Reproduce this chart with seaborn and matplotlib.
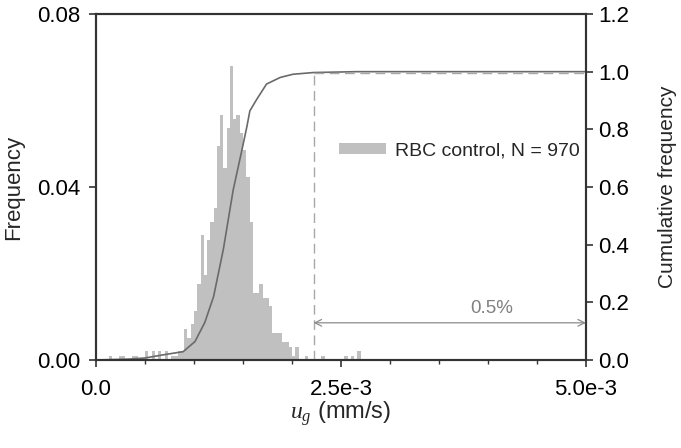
import numpy as np
import pandas as pd
import matplotlib
matplotlib.use("Agg")
import matplotlib.pyplot as plt
import seaborn as sns
from matplotlib.patches import Patch

# ---------------- data ----------------
N = 970
bin_width = 5e-3 / 150          # mm/s
# counts per consecutive bin starting at 0
counts = [0, 0, 0, 0, 1, 0, 0, 1, 1, 0,
          0, 1, 1, 0, 0, 2, 0, 2, 0, 2,
          0, 2, 0, 1, 1, 2, 2, 7, 5, 8,
          11, 17, 28, 19, 27, 31, 34, 48, 55, 43,
          52, 66, 54, 55, 51, 47, 41, 31, 15, 15,
          17, 14, 14, 12, 6, 6, 6, 4, 4, 3,
          1, 3, 0, 0, 1, 0, 0, 0, 0, 1,
          0, 0, 0, 0, 0, 0, 1, 0, 1, 0,
          2]
# cumulative frequency curve
cum_x = [0.0, 0.33e-3, 0.50e-3, 0.67e-3, 0.89e-3, 1.01e-3, 1.11e-3, 1.20e-3,
         1.30e-3, 1.40e-3, 1.49e-3, 1.54e-3, 1.57e-3, 1.64e-3, 1.74e-3,
         1.88e-3, 2.01e-3, 2.22e-3, 2.66e-3, 5.0e-3]
cum_y = [0.0, 0.003, 0.007, 0.017, 0.029, 0.064, 0.13, 0.22,
         0.385, 0.59, 0.73, 0.81, 0.864, 0.904, 0.957,
         0.98, 0.991, 0.997, 1.0, 1.0]
q995_x = 2.22e-3
q995_y = 0.995
legend_label = "RBC control, N = 970"
pct_label = "0.5%"

x_ticks = [0.0, 2.5e-3, 5.0e-3]
x_ticklabels = ["0.0", "2.5e-3", "5.0e-3"]
y_ticks = [0.0, 0.04, 0.08]
y_ticklabels = ["0.00", "0.04", "0.08"]
y2_ticks = [0.0, 0.2, 0.4, 0.6, 0.8, 1.0, 1.2]
y2_ticklabels = ["0.0", "0.2", "0.4", "0.6", "0.8", "1.0", "1.2"]

# ---------------- style ----------------
sns.set_style("ticks")
plt.rcParams["font.family"] = ["Liberation Sans", "DejaVu Sans"]
plt.rcParams["mathtext.fontset"] = "custom"
plt.rcParams["mathtext.it"] = "Liberation Serif:italic"
plt.rcParams["mathtext.rm"] = "Liberation Serif"

fig = plt.figure(figsize=(6.81, 4.48), dpi=100)
ax = fig.add_axes([96 / 681, 1 - 360 / 448, 490 / 681, 346 / 448])

nb = len(counts)
df = pd.DataFrame({
    "u": (np.arange(nb) + 0.5) * bin_width,
    "f": np.array(counts, dtype=float) / N,
})

sns.histplot(data=df, x="u", weights="f", bins=nb,
             binrange=(0.0, nb * bin_width), stat="count",
             color="#c0c0c0", alpha=1.0, edgecolor="none", linewidth=0,
             ax=ax)

ax.set_xlim(0, 5e-3)
ax.set_ylim(0, 0.08)
ax.set_xticks(x_ticks)
ax.set_xticklabels(x_ticklabels)
ax.set_xticks(np.arange(0, 5.01e-3, 0.5e-3), minor=True)
ax.set_yticks(y_ticks)
ax.set_yticklabels(y_ticklabels)
ax.set_ylabel("Frequency", fontsize=16)
ax.yaxis.set_label_coords(-0.147, 0.5)
ax.set_xlabel(r"$\mathit{u}_{\mathit{g}}$ (mm/s)", fontsize=17)
ax.xaxis.set_label_coords(0.5, -0.112)

ax2 = ax.twinx()
sns.lineplot(x=cum_x, y=cum_y, ax=ax2, color="#6a6a6a", linewidth=1.2)
ax2.set_ylim(0, 1.2)
ax2.set_yticks(y2_ticks)
ax2.set_yticklabels(y2_ticklabels)
ax2.set_ylabel("Cumulative frequency", fontsize=15)
ax2.yaxis.set_label_coords(1.147, 0.5)

dash = (0, (7, 4))
ax2.plot([q995_x, q995_x], [0, q995_y], color="#a8a8a8", lw=1.0, linestyle=dash)
ax2.plot([q995_x, 5e-3], [q995_y, q995_y], color="#a8a8a8", lw=1.0, linestyle=dash)

ax2.annotate("", xy=(q995_x, 0.129), xytext=(5e-3, 0.129),
             arrowprops=dict(arrowstyle="<->", color="#8c8c8c", lw=0.9,
                             shrinkA=0, shrinkB=0, mutation_scale=12))
ax2.text(4.04e-3, 0.177, pct_label, color="#808080", fontsize=13.5,
         ha="center", va="center")

for a in (ax, ax2):
    for s in a.spines.values():
        s.set_visible(True)
        s.set_color("#333333")
        s.set_linewidth(1.5)
    a.tick_params(axis="both", which="major", direction="out", length=5,
                  width=1.2, labelsize=16, colors="#333333", labelcolor="black")
    a.tick_params(axis="both", which="minor", direction="out", length=3,
                  width=1.0, colors="#333333")
ax.tick_params(axis="x", which="major", pad=8.5)
ax.tick_params(axis="y", which="major", pad=6.5)
ax2.tick_params(axis="y", which="major", pad=3.5)

handles = [Patch(facecolor="#c0c0c0", edgecolor="none")]
ax2.legend(handles, [legend_label], loc="upper left",
           bbox_to_anchor=(0.46, 0.68), frameon=False, fontsize=14,
           handlelength=2.4, handleheight=0.45, handletextpad=0.5)

fig.savefig("out.png", dpi=100)
